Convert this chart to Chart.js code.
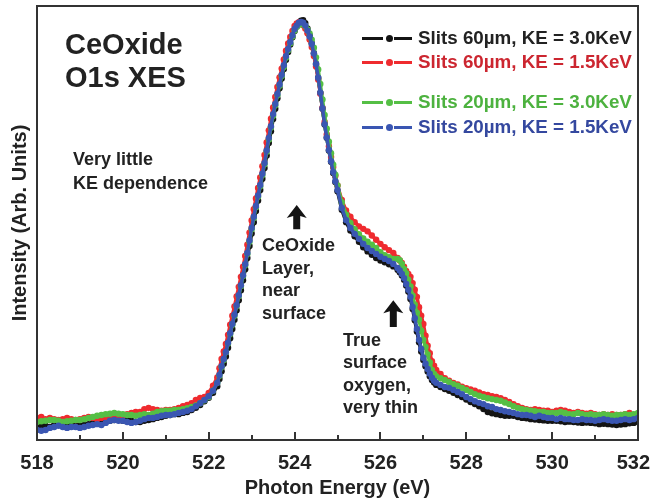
<!DOCTYPE html>
<html>
<head>
<meta charset="utf-8">
<script src="https://cdn.jsdelivr.net/npm/chart.js@4/dist/chart.umd.min.js"></script>
<style>
  body { margin: 0; background: #fff; }
  #wrap { position: relative; width: 651px; height: 502px; font-family: 'Liberation Sans', Arial, sans-serif; color: #222; }
  .note { position: absolute; font-weight: bold; white-space: nowrap; }
  .legend-row { position: absolute; left: 362px; height: 24px; display: flex; align-items: center; font-weight: bold; font-size: 18.8px; white-space: nowrap; }
  .swatch { position: relative; width: 50px; height: 24px; margin-right: 6px; }
  .swatch .seg { position: absolute; top: 10.5px; height: 3px; }
  .swatch .dot { position: absolute; top: 8.5px; left: 23.5px; width: 7px; height: 7px; border-radius: 50%; }
</style>
</head>
<body>
<div id="wrap">
  <canvas id="xes"></canvas>
  <div class="note" style="left:65px;top:28px;font-size:29px;line-height:33px;">CeOxide<br>O1s XES</div>
  <div class="note" style="left:73px;top:147px;font-size:18px;line-height:24px;">Very little<br>KE dependence</div>
  <div class="note" style="left:262px;top:234px;font-size:18px;line-height:22.7px;">CeOxide<br>Layer,<br>near<br>surface</div>
  <div class="note" style="left:343px;top:329px;font-size:18px;line-height:22.3px;">True<br>surface<br>oxygen,<br>very thin</div>
  <div id="legend"></div>
</div>
<script>
// photon energy grid (eV), finer across the steep parts of the peak
const energy = [
  518.0, 518.1, 518.2, 518.3, 518.4, 518.5, 518.6, 518.7, 518.8, 518.9,
  519.0, 519.1, 519.2, 519.3, 519.4, 519.5, 519.6, 519.7, 519.8, 519.9,
  520.0, 520.1, 520.2, 520.3, 520.4, 520.5, 520.6, 520.7, 520.8, 520.9,
  521.0, 521.1, 521.2, 521.3, 521.4, 521.5, 521.6, 521.7, 521.8, 521.9,
  522.0, 522.1, 522.2,
  522.25, 522.3, 522.35, 522.4, 522.45, 522.5, 522.55, 522.6, 522.65, 522.7,
  522.75, 522.8, 522.85, 522.9, 522.95, 523.0, 523.05, 523.1, 523.15, 523.2,
  523.25, 523.3, 523.35, 523.4, 523.45, 523.5, 523.55, 523.6, 523.65, 523.7,
  523.75, 523.8, 523.85, 523.9, 523.95, 524.0, 524.05, 524.1, 524.15, 524.2,
  524.25, 524.3, 524.35, 524.4, 524.45, 524.5, 524.55, 524.6, 524.65, 524.7,
  524.75, 524.8, 524.85, 524.9, 524.95,
  525.0, 525.1, 525.2, 525.3, 525.4, 525.5, 525.6, 525.7, 525.8, 525.9,
  526.0, 526.1, 526.2, 526.3, 526.4,
  526.45, 526.5, 526.55, 526.6, 526.65, 526.7, 526.75, 526.8, 526.85, 526.9,
  526.95, 527.0, 527.05, 527.1, 527.15, 527.2, 527.25,
  527.3, 527.4, 527.5, 527.6, 527.7, 527.8, 527.9, 528.0, 528.1, 528.2,
  528.3, 528.4, 528.5, 528.6, 528.7, 528.8, 528.9, 529.0, 529.1, 529.2,
  529.3, 529.4, 529.5, 529.6, 529.7, 529.8, 529.9, 530.0, 530.1, 530.2,
  530.3, 530.4, 530.5, 530.6, 530.7, 530.8, 530.9, 531.0, 531.1, 531.2,
  531.3, 531.4, 531.5, 531.6, 531.7, 531.8, 531.9, 532.0,
];

// intensities, normalised so the main peak sits near 100
const slits60ke30 = [
  3.4, 3.6, 3.4, 3.1, 3.6, 3.8, 3.6, 3.4, 3.6, 3.4,
  3.4, 3.6, 3.8, 4.1, 4.3, 4.1, 4.3, 4.6, 4.8, 4.8,
  4.6, 4.8, 4.6, 4.3, 4.3, 4.6, 4.8, 5.0, 5.3, 5.5,
  5.8, 6.0, 6.2, 6.2, 6.5, 6.7, 7.2, 7.7, 8.4, 9.3,
  10.1, 11.3, 12.9,
  14.6, 16.5, 18.3, 20.0, 22.1, 24.4, 26.6, 28.8, 31.1, 33.5,
  35.9, 38.3, 40.9, 43.6, 46.5, 49.5, 52.2, 54.9, 57.4, 59.9,
  62.6, 65.2, 68.2, 71.2, 74.0, 76.9, 79.4, 81.9, 84.3, 86.6,
  88.9, 91.1, 93.0, 94.8, 96.5, 98.0, 99.1, 100.0, 100.5, 100.6,
  99.9, 98.6, 97.0, 95.1, 92.7, 90.1, 86.8, 83.2, 79.4, 75.6,
  72.4, 69.4, 66.7, 64.0, 61.8,
  59.6, 55.2, 52.2, 50.2, 48.8, 47.5, 46.2, 45.2, 44.4, 43.6,
  43.0, 42.6, 42.1, 41.6, 40.8,
  40.2, 39.4, 38.4, 37.0, 35.6, 33.8, 31.4, 28.7, 26.0, 23.4,
  21.2, 19.2, 17.7, 16.4, 15.3, 14.4, 13.8,
  13.2, 12.7, 12.2, 11.8, 11.3, 10.8, 10.3, 9.7, 9.1, 8.6,
  8.1, 7.4, 6.7, 6.4, 6.2, 6.0, 5.8, 5.8, 5.8, 5.5,
  5.3, 5.2, 5.0, 4.9, 4.8, 4.7, 4.6, 4.6, 4.6, 4.5,
  4.3, 4.4, 4.3, 4.2, 4.1, 4.2, 4.1, 4.0, 3.8, 3.9,
  3.8, 3.7, 3.6, 3.7, 3.8, 4.0, 4.1, 4.3,
];

const slits60ke15 = [
  5.3, 5.5, 5.0, 5.3, 5.0, 4.8, 5.0, 5.3, 5.0, 4.8,
  5.0, 5.3, 5.5, 5.3, 5.0, 5.3, 5.5, 5.8, 5.8, 5.5,
  6.0, 6.2, 6.5, 6.7, 6.7, 7.4, 7.7, 7.4, 7.2, 7.0,
  7.2, 7.2, 7.4, 7.7, 8.1, 8.4, 8.8, 9.6, 10.1, 10.3,
  11.3, 13.0, 15.0,
  17.2, 19.4, 21.2, 23.0, 25.2, 27.6, 29.8, 32.0, 34.4, 36.7,
  39.1, 41.5, 44.1, 46.8, 49.7, 52.6, 55.3, 57.9, 60.4, 62.9,
  65.6, 68.3, 71.3, 74.2, 77.0, 79.7, 82.2, 84.6, 86.9, 89.0,
  91.2, 93.3, 95.0, 96.6, 98.0, 99.2, 99.8, 100.1, 99.9, 99.4,
  98.6, 97.5, 96.0, 94.2, 92.0, 89.5, 86.4, 83.0, 79.6, 76.2,
  73.2, 70.4, 67.8, 65.4, 63.3,
  61.0, 57.5, 55.0, 53.5, 52.2, 51.2, 50.6, 50.0, 49.0, 48.0,
  47.0, 46.2, 45.5, 44.8, 43.6,
  43.0, 42.4, 41.5, 40.5, 39.8, 39.1, 37.6, 36.0, 34.3, 31.8,
  29.8, 27.8, 25.0, 22.6, 20.8, 18.9, 17.8,
  16.8, 15.8, 14.8, 14.2, 13.7, 13.3, 12.8, 12.4, 12.1, 11.8,
  11.4, 11.0, 10.8, 10.5, 10.3, 10.0, 9.6, 9.1, 8.6, 8.1,
  7.7, 7.4, 7.2, 7.4, 7.2, 7.0, 7.0, 6.7, 7.0, 7.2,
  7.0, 6.7, 6.5, 6.7, 6.5, 6.3, 6.5, 6.2, 6.0, 6.2,
  6.0, 6.2, 6.0, 6.0, 6.2, 6.5, 6.0, 5.8,
];

const slits20ke30 = [
  4.3, 4.5, 4.6, 4.8, 4.8, 4.6, 4.3, 4.5, 4.6, 4.8,
  4.8, 5.0, 5.3, 5.5, 5.8, 6.0, 6.2, 6.3, 6.5, 6.3,
  6.2, 6.0, 6.0, 5.8, 6.0, 6.2, 6.0, 6.3, 6.7, 6.9,
  7.0, 7.0, 7.2, 7.2, 7.4, 7.6, 7.9, 8.3, 8.8, 9.5,
  10.3, 11.8, 13.7,
  15.4, 17.5, 19.2, 21.0, 23.1, 25.4, 27.6, 29.8, 32.1, 34.5,
  36.9, 39.3, 41.9, 44.6, 47.5, 50.5, 53.2, 55.8, 58.3, 60.8,
  63.5, 66.1, 69.1, 72.0, 74.9, 77.7, 80.2, 82.6, 84.9, 87.2,
  89.4, 91.6, 93.4, 95.1, 96.7, 98.1, 99.0, 99.5, 99.7, 99.6,
  99.2, 98.4, 97.4, 95.9, 94.0, 91.7, 88.8, 85.3, 81.6, 77.9,
  74.6, 71.5, 68.7, 66.0, 63.6,
  61.0, 57.0, 54.0, 52.0, 50.5, 49.3, 48.3, 47.5, 46.8, 46.0,
  45.0, 44.3, 43.8, 43.4, 43.4,
  43.1, 42.2, 41.0, 40.0, 38.4, 36.8, 34.6, 32.4, 30.5, 28.8,
  26.2, 24.0, 22.3, 20.5, 18.6, 16.8, 15.8,
  15.2, 14.8, 14.4, 13.9, 13.4, 13.0, 12.5, 12.0, 11.5, 11.0,
  10.6, 10.3, 10.0, 9.8, 9.6, 9.4, 9.0, 8.6, 8.1, 7.7,
  7.4, 7.2, 7.0, 6.9, 6.7, 6.7, 6.5, 6.5, 6.5, 6.7,
  6.5, 6.2, 6.2, 6.5, 6.2, 6.0, 6.2, 6.0, 6.0, 6.2,
  6.0, 5.8, 6.0, 6.0, 6.2, 6.0, 6.2, 6.5,
];

const slits20ke15 = [
  2.4, 2.2, 2.4, 2.9, 3.1, 3.4, 3.1, 2.9, 3.1, 3.1,
  2.9, 3.1, 3.4, 3.6, 3.8, 3.6, 4.1, 4.6, 4.8, 4.6,
  4.6, 4.3, 4.1, 4.3, 4.6, 5.0, 5.3, 5.3, 5.5, 5.8,
  6.0, 6.0, 6.2, 6.5, 6.7, 7.0, 7.4, 8.1, 8.8, 9.6,
  10.5, 11.8, 13.7,
  15.6, 17.7, 19.4, 21.1, 23.3, 25.6, 27.8, 30.0, 32.3, 34.7,
  37.1, 39.5, 42.1, 44.8, 47.8, 50.8, 53.5, 56.1, 58.6, 61.1,
  63.8, 66.4, 69.4, 72.4, 75.2, 78.1, 80.5, 82.9, 85.2, 87.5,
  89.8, 92.0, 93.7, 95.4, 97.0, 98.5, 99.3, 100.0, 100.2, 100.0,
  99.3, 98.1, 96.7, 94.9, 92.6, 90.1, 86.8, 83.2, 79.5, 75.7,
  72.5, 69.5, 66.8, 64.2, 62.0,
  59.9, 55.6, 52.7, 50.8, 49.4, 48.2, 47.0, 46.0, 45.3, 44.6,
  43.9, 43.4, 42.9, 42.2, 41.2,
  40.6, 39.8, 38.8, 37.4, 36.0, 34.3, 31.9, 29.2, 26.6, 24.0,
  21.8, 19.7, 18.3, 17.0, 15.9, 14.9, 14.2,
  13.7, 13.2, 12.7, 12.5, 12.0, 11.5, 11.0, 10.3, 9.8, 9.3,
  8.9, 8.6, 8.1, 7.9, 7.4, 7.2, 6.9, 6.7, 6.5, 6.2,
  6.0, 6.0, 5.8, 5.5, 5.8, 5.5, 5.3, 5.3, 5.0, 5.3,
  5.0, 5.0, 4.8, 4.8, 5.0, 4.8, 4.8, 4.6, 4.8, 5.0,
  4.8, 4.6, 4.6, 4.8, 5.0, 4.8, 5.0, 5.3,
];

const seriesLabels = [
  'Slits 60µm, KE = 3.0KeV',
  'Slits 60µm, KE = 1.5KeV',
  'Slits 20µm, KE = 3.0KeV',
  'Slits 20µm, KE = 1.5KeV',
];
const xTicks = [518, 520, 522, 524, 526, 528, 530, 532];

const LINE_COLORS = ['#141414', '#ef2b2f', '#55bf45', '#3a56b2'];
const TEXT_COLORS = ['#222222', '#cc2630', '#4db23f', '#34489f'];
const LEGEND_TOPS = [26, 50, 90, 115];
const FONT_FAMILY = "'Liberation Sans', Arial, sans-serif";

// arrows: [energy, tip intensity, tail intensity]
const arrows = [
  [524.05, 56.3, 50.5],
  [526.3, 33.5, 27.1],
];

function buildLegend() {
  const el = document.getElementById('legend');
  el.innerHTML = seriesLabels
    .map((label, i) => {
      const c = LINE_COLORS[i];
      return `<div class="legend-row" style="top:${LEGEND_TOPS[i]}px;color:${TEXT_COLORS[i]}">
        <div class="swatch">
          <div class="seg" style="left:0;width:21px;background:${c}"></div>
          <div class="dot" style="background:${c}"></div>
          <div class="seg" style="left:32px;width:18px;background:${c}"></div>
        </div>${label}</div>`;
    })
    .join('');
}

function drawArrow(ctx, x, yTip, yTail) {
  const headH = 13;
  const headW = 10;
  const shaft = 3.5;
  ctx.beginPath();
  ctx.moveTo(x, yTip);
  ctx.lineTo(x + headW, yTip + headH);
  ctx.lineTo(x + shaft, yTip + headH - 2);
  ctx.lineTo(x + shaft, yTail);
  ctx.lineTo(x - shaft, yTail);
  ctx.lineTo(x - shaft, yTip + headH - 2);
  ctx.lineTo(x - headW, yTip + headH);
  ctx.closePath();
  ctx.fill();
}

// frame, inward ticks + labels along the energy axis, annotation arrows
const framePlugin = {
  id: 'frame',
  afterDraw(chart) {
    const { ctx, chartArea: a, scales } = chart;
    ctx.save();
    ctx.strokeStyle = '#333';
    ctx.lineWidth = 2;
    ctx.strokeRect(a.left, a.top, a.right - a.left, a.bottom - a.top);
    ctx.beginPath();
    for (let v = 518; v <= 532; v++) {
      const x = Math.round(scales.x.getPixelForValue(v));
      const len = v % 2 === 0 ? 8 : 5;
      ctx.moveTo(x, a.bottom);
      ctx.lineTo(x, a.bottom - len);
    }
    ctx.stroke();

    // end labels are pulled inward so they stay on the canvas
    ctx.fillStyle = '#222';
    ctx.font = `bold 20px ${FONT_FAMILY}`;
    ctx.textAlign = 'center';
    ctx.textBaseline = 'middle';
    xTicks.forEach((v) => {
      const label = String(v);
      const half = ctx.measureText(label).width / 2;
      const x = Math.min(Math.max(scales.x.getPixelForValue(v), 16 + half), chart.width - 1 - half);
      ctx.fillText(label, x, a.bottom + 23);
    });

    ctx.fillStyle = '#141414';
    arrows.forEach(([e, tip, tail]) => {
      drawArrow(ctx, scales.x.getPixelForValue(e), scales.y.getPixelForValue(tip), scales.y.getPixelForValue(tail));
    });
    ctx.restore();
  },
};

function makeDataset(values, i) {
  return {
    label: seriesLabels[i],
    data: energy.map((x, k) => ({ x, y: values[k] })),
    borderColor: LINE_COLORS[i],
    backgroundColor: LINE_COLORS[i],
    borderWidth: 3.5,
    pointRadius: 3.2,
    pointBorderWidth: 0,
    pointBackgroundColor: LINE_COLORS[i],
    tension: 0,
    order: 3 - i,
  };
}

buildLegend();

const axisFont = { family: FONT_FAMILY, weight: 'bold', size: 20 };

new Chart(document.getElementById('xes'), {
  type: 'line',
  data: {
    datasets: [slits60ke30, slits60ke15, slits20ke30, slits20ke15].map(makeDataset),
  },
  options: {
    responsive: true,
    maintainAspectRatio: false,
    animation: false,
    events: [],
    layout: { padding: { top: 6, right: 13, left: 0, bottom: 0 } },
    plugins: { legend: { display: false }, tooltip: { enabled: false } },
    scales: {
      x: {
        type: 'linear',
        min: 518,
        max: 532,
        afterBuildTicks(scale) {
          scale.ticks = xTicks.map((v) => ({ value: v }));
        },
        afterFit(scale) {
          scale.height = 62;
          scale.paddingLeft = 0;
          scale.paddingRight = 0;
        },
        grid: { display: false },
        border: { display: false },
        ticks: { display: false },
        title: { display: true, text: 'Photon Energy (eV)', color: '#222', font: axisFont, padding: { top: 0, bottom: 2 } },
      },
      y: {
        min: 0,
        max: 104,
        afterFit(scale) {
          scale.width = 37;
        },
        grid: { display: false },
        border: { display: false },
        ticks: { display: false },
        title: { display: true, text: 'Intensity (Arb. Units)', color: '#222', font: axisFont, padding: { top: 8, bottom: 0 } },
      },
    },
  },
  plugins: [framePlugin],
});
</script>
</body>
</html>
